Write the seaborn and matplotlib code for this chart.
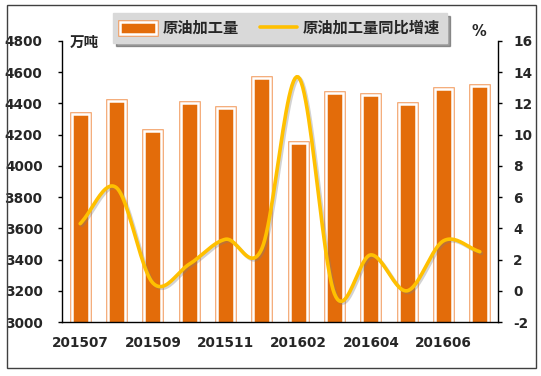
import numpy as np
import pandas as pd
import matplotlib
matplotlib.use('Agg')
import matplotlib.pyplot as plt
import matplotlib.patheffects as pe
from matplotlib.patches import Patch, Rectangle
from matplotlib.lines import Line2D
import seaborn as sns

# 数据
months = ['201507', '201508', '201509', '201510', '201511', '201512',
          '201602', '201603', '201604', '201605', '201606', '201607']
output = [4330, 4414, 4221, 4406, 4371, 4565, 4148, 4468, 4451, 4397, 4490, 4513]
growth = [4.3, 6.6, 0.5, 1.7, 3.3, 2.7, 13.7, -0.2, 2.3, 0.0, 3.2, 2.5]

ORANGE = '#E36C0A'
LIGHT = '#F29A5C'
GOLD = '#FFC000'


def smooth(x, y, n=24):
    """Catmull-Rom 平滑曲线（类似 Excel 平滑线）"""
    p = np.column_stack([x, y]).astype(float)
    p = np.vstack([2 * p[0] - p[1], p, 2 * p[-1] - p[-2]])
    t = np.linspace(0, 1, n, endpoint=False)[:, None]
    segs = []
    for i in range(1, len(p) - 2):
        p0, p1, p2, p3 = p[i - 1], p[i], p[i + 1], p[i + 2]
        segs.append(0.5 * ((2 * p1) + (-p0 + p2) * t +
                           (2 * p0 - 5 * p1 + 4 * p2 - p3) * t ** 2 +
                           (-p0 + 3 * p1 - 3 * p2 + p3) * t ** 3))
    segs.append(p[-2][None, :])
    s = np.vstack(segs)
    return s[:, 0], s[:, 1]


sns.set_style('white')
plt.rcParams['font.family'] = ['DejaVu Sans', 'Noto Sans CJK SC']
plt.rcParams['axes.unicode_minus'] = False

fig = plt.figure(figsize=(5.41, 3.76), dpi=100)
ax = fig.add_axes([62 / 541, 54 / 376, 436 / 541, 281 / 376])

df = pd.DataFrame({'month': months, 'output': output})
sns.barplot(data=df, x='month', y='output', color=ORANGE, saturation=1,
            width=0.46, edgecolor='white', linewidth=1.8, ax=ax)
for bar in ax.patches:
    bar.set_path_effects([pe.Stroke(linewidth=3.3, foreground=LIGHT), pe.Normal()])

ax.set_xlim(-0.5, len(months) - 0.5)
ax.set_ylim(3000, 4800)
ax.set_yticks(range(3000, 4801, 200))
ax.set_xticks(range(0, len(months), 2))
ax.set_xticklabels(months[::2])
ax.set_xlabel('')
ax.set_ylabel('')
ax.tick_params(axis='x', length=0, pad=10, labelsize=9.8)
ax.tick_params(axis='y', length=3, width=1, color='black', pad=11, labelsize=9.8)
for lab in ax.get_xticklabels() + ax.get_yticklabels():
    lab.set_fontweight('bold')
for s in ['top', 'right']:
    ax.spines[s].set_visible(False)
for s in ['left', 'bottom']:
    ax.spines[s].set_color('black')
    ax.spines[s].set_linewidth(1)

ax2 = ax.twinx()
xs, ys = smooth(np.arange(len(growth)), growth)
ax2.plot(xs, ys, color=GOLD, lw=2.6, solid_capstyle='round',
         path_effects=[pe.SimpleLineShadow(offset=(1.2, -1.2), shadow_color='gray', alpha=0.35),
                       pe.Normal()])
ax2.set_ylim(-2, 16)
ax2.set_yticks(range(-2, 17, 2))
ax2.tick_params(axis='y', length=3, width=1, color='black', pad=8, labelsize=9.8)
for lab in ax2.get_yticklabels():
    lab.set_fontweight('bold')
for s in ['top', 'left', 'bottom']:
    ax2.spines[s].set_visible(False)
ax2.spines['right'].set_color('black')
ax2.spines['right'].set_linewidth(1)

fig.text(84.5 / 541, 1 - 42 / 376, '万吨', ha='center', va='center',
         fontsize=10.5, fontweight='bold', family=['Noto Sans CJK SC', 'DejaVu Sans'])
fig.text(479 / 541, 1 - 32 / 376, '%', ha='center', va='center',
         fontsize=10.5, fontweight='bold')

bar_handle = Patch(facecolor=ORANGE, edgecolor='white', linewidth=1.8,
                   path_effects=[pe.Stroke(linewidth=3.3, foreground=LIGHT), pe.Normal()])
line_handle = Line2D([], [], color=GOLD, lw=2.6)
leg = fig.legend([bar_handle, line_handle], ['原油加工量', '原油加工量同比增速'],
                 loc='center', bbox_to_anchor=(280 / 541, 1 - 28 / 376), ncol=2,
                 frameon=True, facecolor='#D9D9D9', edgecolor='#D9D9D9', framealpha=1,
                 fancybox=False, shadow=True, handlelength=2.4, handleheight=0.8,
                 handletextpad=0.4, columnspacing=1.4, borderpad=0.45,
                 prop={'family': ['Noto Sans CJK SC', 'DejaVu Sans'], 'weight': 'bold', 'size': 11})

fig.add_artist(Rectangle((7 / 541, 1 - 368 / 376), 529 / 541, 363 / 376,
                         transform=fig.transFigure, fill=False,
                         edgecolor='#404040', linewidth=1))

fig.savefig('out.png', dpi=100)
